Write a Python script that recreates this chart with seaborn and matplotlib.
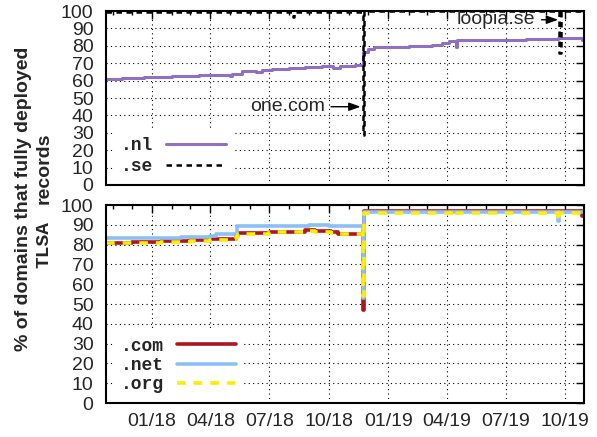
import matplotlib
matplotlib.use('Agg')
import matplotlib.pyplot as plt
import matplotlib.dates as mdates
from matplotlib.font_manager import FontProperties
import pandas as pd
import seaborn as sns

# --- data ---
x_start = '2017-10-22'
x_end = '2019-10-30'

nl_dates = ['2017-10-22', '2017-11-15', '2017-12-20', '2018-02-01', '2018-03-15', '2018-04-25',
            '2018-05-01', '2018-05-05', '2018-05-20', '2018-06-05', '2018-06-10', '2018-06-20',
            '2018-07-05', '2018-08-01', '2018-08-25', '2018-09-20', '2018-10-08', '2018-10-18',
            '2018-11-10', '2018-11-23', '2018-12-01', '2018-12-10', '2019-02-01', '2019-03-10',
            '2019-03-25', '2019-04-05', '2019-04-15', '2019-04-17', '2019-06-01', '2019-08-01',
            '2019-09-20', '2019-10-20', '2019-10-27', '2019-10-30']
nl_vals = [61.0, 61.5, 62.0, 62.5, 63.0, 63.5,
           62.8, 64.0, 65.5, 65.8, 64.8, 66.0,
           66.8, 67.2, 68.0, 68.2, 67.3, 68.5,
           69.0, 76.5, 78.0, 79.5, 80.0, 80.5,
           81.5, 82.5, 79.5, 83.2, 83.5, 83.8,
           84.3, 84.5, 83.5, 83.5]

se_dates = ['2017-10-22', '2018-08-06', '2018-08-07', '2018-08-08', '2018-11-22', '2018-11-23',
            '2018-11-24', '2019-09-22', '2019-09-23', '2019-09-25', '2019-10-30']
se_vals = [99.6, 96.5, 96.5, 99.6, 29.0, 29.0,
           100.0, 76.0, 76.0, 99.8, 99.8]

com_dates = ['2017-10-22', '2017-12-01', '2018-01-15', '2018-03-01', '2018-04-01', '2018-05-01',
             '2018-05-10', '2018-05-14', '2018-07-01', '2018-08-25', '2018-09-10', '2018-10-05',
             '2018-10-15', '2018-11-22', '2018-11-23', '2018-11-24', '2019-07-15', '2019-10-27',
             '2019-10-30']
com_vals = [81.0, 81.3, 81.6, 82.2, 82.8, 83.0,
            84.2, 86.0, 86.5, 87.2, 86.8, 86.2,
            85.6, 85.6, 47.0, 97.0, 97.2, 94.5,
            94.5]

net_dates = ['2017-10-22', '2017-12-15', '2018-02-15', '2018-04-01', '2018-04-10', '2018-05-12',
             '2018-07-15', '2018-09-01', '2018-10-01', '2018-11-22', '2018-11-23', '2018-11-24',
             '2019-04-15', '2019-04-17', '2019-09-20', '2019-09-22', '2019-10-30']
net_vals = [83.2, 83.6, 84.0, 84.5, 85.2, 89.2,
            89.5, 89.8, 89.6, 89.5, 53.0, 96.3,
            96.3, 96.5, 92.0, 96.3, 96.3]

org_dates = ['2017-10-22', '2017-12-01', '2018-01-15', '2018-03-01', '2018-04-01', '2018-05-01',
             '2018-05-10', '2018-05-14', '2018-07-01', '2018-08-25', '2018-09-10', '2018-10-05',
             '2018-10-15', '2018-11-22', '2018-11-23', '2018-11-24', '2019-04-15', '2019-04-17',
             '2019-09-20', '2019-09-22', '2019-10-30']
org_vals = [80.6, 81.0, 81.3, 81.9, 82.5, 82.7,
            84.0, 85.6, 86.2, 86.9, 86.5, 85.8,
            85.2, 85.2, 54.0, 96.0, 94.5, 96.0,
            91.8, 96.0, 96.0]

yticks = list(range(0, 101, 10))

# --- style ---
sns.set_style('white')
plt.rcParams['font.family'] = ['Liberation Sans', 'DejaVu Sans']
legend_font = FontProperties(family='Liberation Mono', weight='bold', size=13)

fig = plt.figure(figsize=(5.97, 4.37), dpi=100)
ax_top = fig.add_axes([0.1776, 0.5767, 0.8007, 0.398])
ax_bot = fig.add_axes([0.1776, 0.0778, 0.8007, 0.453], sharex=ax_top)


def draw(ax, dates, vals, **kw):
    sns.lineplot(x=pd.to_datetime(dates), y=vals, ax=ax, drawstyle='steps-post',
                 estimator=None, sort=False, **kw)


# top panel: .nl and .se
draw(ax_top, nl_dates, nl_vals, color='#9070C0', lw=2.2, label='.nl')
draw(ax_top, se_dates, se_vals, color='black', lw=1.8, linestyle=(0, (2.2, 1.8)), label='.se')

# bottom panel: .com, .net, .org
draw(ax_bot, com_dates, com_vals, color='#B0141E', lw=2.6, label='.com')
draw(ax_bot, net_dates, net_vals, color='#8CBFF5', lw=2.6, label='.net')
draw(ax_bot, org_dates, org_vals, color='#FFEE00', lw=2.6, linestyle=(0, (2.4, 2.2)), label='.org')

for ax in (ax_top, ax_bot):
    ax.set_xlim(pd.Timestamp(x_start), pd.Timestamp(x_end))
    ax.set_ylim(0, 100)
    ax.set_yticks(yticks)
    ax.xaxis.set_major_locator(mdates.MonthLocator(bymonth=[1, 4, 7, 10]))
    ax.xaxis.set_minor_locator(mdates.MonthLocator())
    ax.xaxis.set_major_formatter(mdates.DateFormatter('%m/%y'))
    ax.grid(True, which='major', color='black', linestyle=(0, (1, 3)), lw=0.8)
    ax.tick_params(which='both', direction='in', top=True, right=True, labelsize=14,
                   color='black')
    ax.tick_params(axis='y', pad=9)
    ax.tick_params(axis='x', pad=7)
    ax.tick_params(which='major', length=6, width=1)
    ax.tick_params(which='minor', length=3, width=1)
    for s in ax.spines.values():
        s.set_color('black')
        s.set_linewidth(1.5)
    ax.set_xlabel('')
    ax.set_ylabel('')

ax_top.tick_params(labelbottom=False)

leg_kw = dict(loc='lower left', bbox_to_anchor=(0.011, 0.0), prop=legend_font,
              markerfirst=False, handlelength=3.3, handletextpad=0.7,
              borderpad=0.4, borderaxespad=0.15, frameon=True, facecolor='white',
              edgecolor='none', framealpha=1, fancybox=False)
ax_top.legend(labelspacing=0.2, **leg_kw)
ax_bot.legend(labelspacing=0.12, **leg_kw)

arrow = dict(arrowstyle='-|>,head_length=0.5,head_width=0.18', color='black', lw=1,
             shrinkA=2, shrinkB=0)
ax_top.annotate('one.com', xy=(pd.Timestamp('2018-11-19'), 45),
                xytext=(pd.Timestamp('2018-09-25'), 45), ha='right', va='center',
                fontsize=14, arrowprops=arrow)
ax_top.annotate('loopia.se', xy=(pd.Timestamp('2019-09-20'), 95),
                xytext=(pd.Timestamp('2019-08-16'), 95), ha='right', va='center',
                fontsize=14, arrowprops=arrow)

# y label: two lines, "TLSA" in monospace
fig.text(0.040, 0.545, '% of domains that fully deployed', rotation=90, ha='center',
         va='center', fontsize=14, fontweight='bold')
fig.text(0.074, 1 - 268 / 437, 'TLSA', rotation=90, ha='center', va='bottom',
         fontsize=14, fontweight='bold', family='Liberation Mono')
fig.text(0.074, 1 - 132 / 437, 'records', rotation=90, ha='center', va='top',
         fontsize=14, fontweight='bold')

fig.savefig('out.png', dpi=100)
